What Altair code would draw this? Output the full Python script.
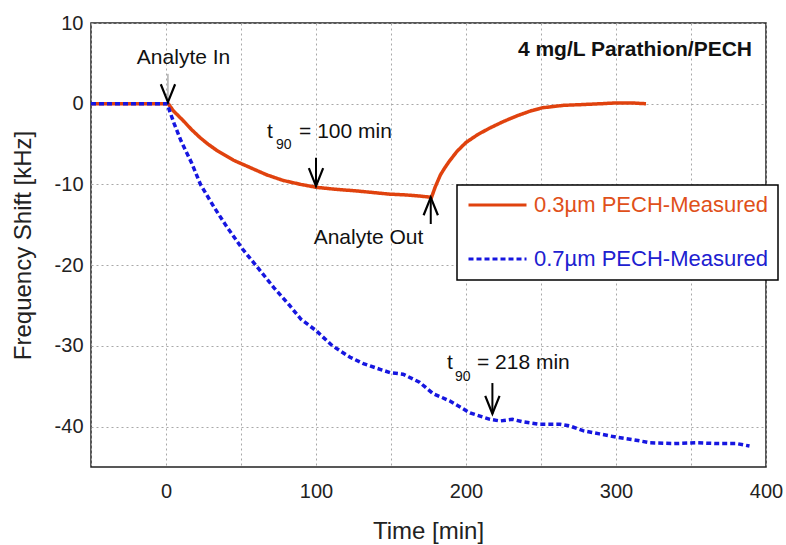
import altair as alt
import pandas as pd

# ---------------- data ----------------
series_names = ["0.3µm PECH-Measured", "0.7µm PECH-Measured"]

red_t = [-50, 1.5, 5, 11.5, 17, 22.7, 28, 34, 45, 56, 67, 78, 90, 100, 113, 127,
         138, 149, 160, 170, 177, 179.5, 183, 186, 189, 194, 200, 208, 216, 225, 234,
         243, 251, 265, 278, 290, 300, 310, 320]
red_y = [0, 0, -0.9, -2.1, -3.2, -4.2, -5.0, -5.8, -7.0, -7.9, -8.8, -9.5, -10.0,
         -10.35, -10.6, -10.8, -11.0, -11.2, -11.3, -11.45, -11.6, -10.3, -8.8, -7.9,
         -7.1, -5.9, -4.8, -3.8, -3.0, -2.2, -1.5, -0.9, -0.5, -0.2, -0.1, 0.0, 0.1,
         0.1, 0.0]

blue_t = [-50, 0.7, 5.5, 10, 17, 23, 32, 40, 51, 62, 72, 82, 90, 100, 111, 122.7,
          131.6, 142.7, 149.3, 158, 169, 178, 189, 202.7, 216, 222.7, 231, 238, 249,
          262.7, 269, 278, 289, 300, 311, 322.7, 338, 354, 367, 380.5, 389]
blue_y = [0, 0, -2.5, -4.6, -7.3, -10.0, -12.8, -15.1, -18.0, -20.5, -22.8, -24.9,
          -26.7, -28.1, -30.0, -31.4, -32.2, -32.9, -33.3, -33.5, -34.5, -35.9, -36.8,
          -38.3, -39.1, -39.3, -39.1, -39.4, -39.7, -39.7, -39.9, -40.5, -40.9, -41.3,
          -41.6, -42.0, -42.1, -42.0, -42.1, -42.1, -42.4]

x_ticks = list(range(-50, 401, 50))
y_ticks = [-40, -30, -20, -10, 0, 10]

# annotations
center_text = ["Analyte In", "Analyte Out"]
center_x = [11.7, 135]
center_y = [4.96, -17.35]

left_text = ["t", "= 100 min", "t", "= 218 min"]
left_x = [67.3, 88.7, 187.3, 207.3]
left_y = [-4.2, -4.2, -32.8, -32.8]

sub_text = ["90", "90"]
sub_x = [73.3, 192.7]
sub_y = [-5.6, -34.3]

title_text = ["4 mg/L Parathion/PECH"]
title_x = [390.7]
title_y = [5.95]

arrow_x = [1.3, 100, 176.5, 217.6]
arrow_y1 = [3.7, -6.7, -14.9, -34.6]
arrow_y2 = [0.3, -10.2, -11.6, -38.4]
arrow_color = ["#888888", "#000000", "#000000", "#000000"]
arrow_w = [1, 2, 2, 2]

head_down_x = [1.3, 100, 217.6]
head_down_y = [0.2, -10.2, -38.4]
head_up_x = [176.5]
head_up_y = [-11.6]

# ---------------- styling ----------------
RED = "#e0420e"
BLUE = "#1616e0"
FONT = "Liberation Sans"

red_df = pd.DataFrame({"t": red_t, "f": red_y, "series": series_names[0]})
blue_df = pd.DataFrame({"t": blue_t, "f": blue_y, "series": series_names[1]})

xscale = alt.Scale(domain=[-50, 400], nice=False, zero=False)
yscale = alt.Scale(domain=[-45, 10], nice=False, zero=False)

x_axis = alt.Axis(
    values=x_ticks, labelExpr="datum.value % 100 == 0 ? '' + datum.value : ''",
    grid=True, ticks=False, domain=False, labelFontSize=20, labelPadding=14,
    labelFlush=False, labelColor="#222", title="Time [min]", titleFontSize=24,
    titleFontWeight="normal", titleColor="#222", titleX=337, titleY=71,
    titleAlign="center", titleBaseline="alphabetic",
)
y_axis = alt.Axis(
    values=y_ticks, labelExpr="'' + datum.value", grid=True, ticks=False,
    domain=False, labelFontSize=20, labelPadding=8, labelColor="#222",
    title="Frequency Shift [kHz]", titleFontSize=24, titleFontWeight="normal",
    titleColor="#222", titleX=-68, titleY=222, titleAngle=-90, titleAlign="center",
    titleBaseline="middle",
)

legend = alt.Legend(
    title=None, orient="none", legendX=366, legendY=162, direction="vertical",
    symbolType="stroke", symbolSize=3364, symbolStrokeWidth=3, clipHeight=20,
    rowPadding=32, padding=10, labelFontSize=22, labelOffset=6, labelFont=FONT,
    labelLimit=400, strokeColor="#000000", fillColor="#ffffff",
    labelColor={"expr": "datum.index == 0 ? '#e0501a' : '#2020d0'"},
)

color = alt.Color("series:N", scale=alt.Scale(domain=series_names, range=[RED, BLUE]),
                  legend=legend)
dash = alt.StrokeDash("series:N",
                      scale=alt.Scale(domain=series_names, range=[[1, 0], [5, 3]]),
                      legend=legend)

x_enc = alt.X("t:Q", scale=xscale, axis=x_axis)
y_enc = alt.Y("f:Q", scale=yscale, axis=y_axis)

red_line = alt.Chart(red_df).mark_line(strokeWidth=3.5).encode(
    x=x_enc, y=y_enc, color=color, strokeDash=dash)
blue_line = alt.Chart(blue_df).mark_line(strokeWidth=3.5).encode(
    x=alt.X("t:Q", scale=xscale), y=alt.Y("f:Q", scale=yscale),
    color=color, strokeDash=dash)

arrows_df = pd.DataFrame({"x": arrow_x, "y1": arrow_y1, "y2": arrow_y2,
                          "c": arrow_color, "w": arrow_w})
arrows = alt.Chart(arrows_df).mark_rule().encode(
    x=alt.X("x:Q", scale=xscale), y=alt.Y("y1:Q", scale=yscale), y2="y2:Q",
    color=alt.Color("c:N", scale=None), strokeWidth=alt.StrokeWidth("w:Q", scale=None))

heads_down = alt.Chart(pd.DataFrame({"x": head_down_x, "y": head_down_y})).mark_point(
    shape="M-0.8,-2L0,0L0.8,-2", size=320, filled=False, stroke="#000000",
    strokeWidth=2.2, opacity=1).encode(
    x=alt.X("x:Q", scale=xscale), y=alt.Y("y:Q", scale=yscale))
heads_up = alt.Chart(pd.DataFrame({"x": head_up_x, "y": head_up_y})).mark_point(
    shape="M-0.8,2L0,0L0.8,2", size=320, filled=False, stroke="#000000",
    strokeWidth=2.2, opacity=1).encode(
    x=alt.X("x:Q", scale=xscale), y=alt.Y("y:Q", scale=yscale))

txt_center = alt.Chart(pd.DataFrame({"x": center_x, "y": center_y, "s": center_text})).mark_text(
    font=FONT, fontSize=21, align="center", baseline="alphabetic", color="#111").encode(
    x=alt.X("x:Q", scale=xscale), y=alt.Y("y:Q", scale=yscale), text="s:N")
txt_left = alt.Chart(pd.DataFrame({"x": left_x, "y": left_y, "s": left_text})).mark_text(
    font=FONT, fontSize=21, align="left", baseline="alphabetic", color="#111").encode(
    x=alt.X("x:Q", scale=xscale), y=alt.Y("y:Q", scale=yscale), text="s:N")
txt_sub = alt.Chart(pd.DataFrame({"x": sub_x, "y": sub_y, "s": sub_text})).mark_text(
    font=FONT, fontSize=14, align="left", baseline="alphabetic", color="#111").encode(
    x=alt.X("x:Q", scale=xscale), y=alt.Y("y:Q", scale=yscale), text="s:N")
txt_title = alt.Chart(pd.DataFrame({"x": title_x, "y": title_y, "s": title_text})).mark_text(
    font=FONT, fontSize=21, fontWeight="bold", align="right", baseline="alphabetic",
    color="#111").encode(
    x=alt.X("x:Q", scale=xscale), y=alt.Y("y:Q", scale=yscale), text="s:N")

chart = alt.layer(
    red_line, blue_line, arrows, heads_down, heads_up,
    txt_center, txt_left, txt_sub, txt_title,
).properties(
    width=675, height=444,
    autosize=alt.AutoSizeParams(type="none"),
    padding={"left": 91, "top": 23, "right": 20, "bottom": 78},
    background="white",
).configure_view(
    stroke="#222222", strokeWidth=1.5,
).configure_axis(
    gridColor="#a8a8a8", gridDash=[2, 3], gridWidth=1, labelFont=FONT, titleFont=FONT,
).configure_legend(
    strokeWidth=1.5,
).configure_text(font=FONT)

chart.save("out.html", embed_options={"renderer": "svg", "actions": False})
